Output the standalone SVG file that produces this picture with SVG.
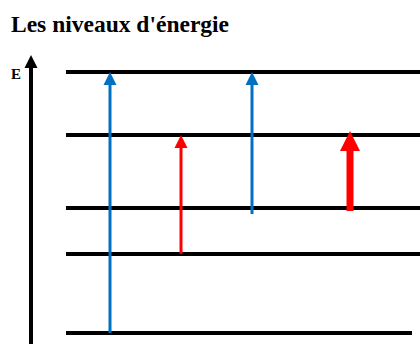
<svg xmlns="http://www.w3.org/2000/svg" width="420" height="344" viewBox="0 0 420 344">
<style>
.t{font-family:"Liberation Serif","Times New Roman",serif;font-weight:bold;fill:#000}
.lvl{stroke:#000;stroke-width:4}
.blue{stroke:#0070C0;stroke-width:3;fill:none}
.red{stroke:#FF0000;stroke-width:3;fill:none}
.redw{stroke:#FF0000;stroke-width:7;fill:none}
</style>
<rect width="420" height="344" fill="#fff"/>
<text class="t" x="11" y="32" font-size="23.5">Les niveaux d'énergie</text>
<g id="axis">
<line x1="31" y1="344" x2="31" y2="66" stroke="#000" stroke-width="4"/>
<polygon points="31,55 24.5,68 37.5,68" fill="#000"/>
<text class="t" x="11" y="79" font-size="15">E</text>
</g>
<g id="levels">
<g id="level1"><line class="lvl" x1="66" y1="72" x2="420" y2="72"/></g>
<g id="level2"><line class="lvl" x1="66" y1="135" x2="420" y2="135"/></g>
<g id="level3"><line class="lvl" x1="66" y1="208" x2="420" y2="208"/></g>
<g id="level4"><line class="lvl" x1="66" y1="254" x2="420" y2="254"/></g>
<g id="level5"><line class="lvl" x1="66" y1="333" x2="412" y2="333"/></g>
</g>
<g id="connectors">
<line class="blue" x1="110" y1="333" x2="110" y2="84"/>
<polygon points="110,72 103.5,85 116.5,85" fill="#0070C0"/>
<line class="blue" x1="252" y1="214" x2="252" y2="84"/>
<polygon points="252,72 245.5,85 258.5,85" fill="#0070C0"/>
<line class="red" x1="181" y1="254" x2="181" y2="147"/>
<polygon points="181,135 174.5,148 187.5,148" fill="#FF0000"/>
<line class="redw" x1="350" y1="211" x2="350" y2="149"/>
<polygon points="350,131 340,151 360,151" fill="#FF0000"/>
</g>
</svg>
